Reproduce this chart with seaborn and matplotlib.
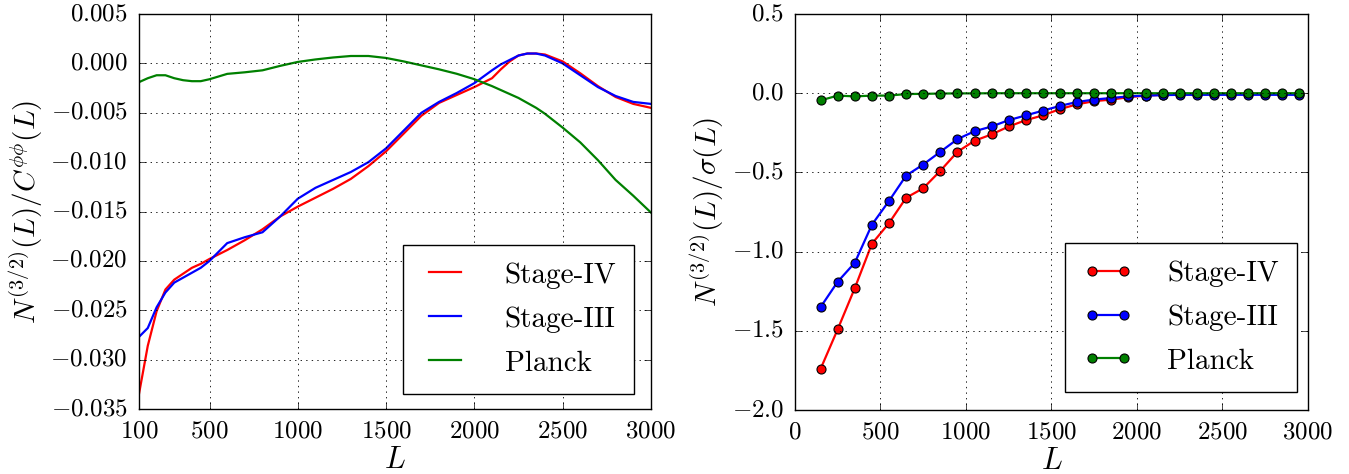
import numpy as np
import pandas as pd
import matplotlib
matplotlib.use("Agg")
import matplotlib.pyplot as plt
import seaborn as sns

# estilo classico (ticks para dentro, grade pontilhada)
plt.style.use("classic")
plt.rcParams["font.family"] = "serif"
plt.rcParams["font.serif"] = ["cmr10", "DejaVu Serif"]
plt.rcParams["mathtext.fontset"] = "cm"
plt.rcParams["axes.formatter.use_mathtext"] = True
plt.rcParams["axes.unicode_minus"] = True

# painel esquerdo: N^(3/2)/C^phiphi
L_left = [100, 150, 200, 250, 300, 350, 400, 450, 500, 600, 700, 800, 900, 1000, 1100,
          1200, 1300, 1400, 1500, 1600, 1700, 1800, 1900, 2000, 2100, 2150, 2200, 2250,
          2300, 2350, 2400, 2500, 2600, 2700, 2800, 2900, 3000]
stage4_left = [-0.0335, -0.0286, -0.0251, -0.0229, -0.0219, -0.0213, -0.0207, -0.0203,
               -0.0198, -0.0189, -0.0179, -0.0168, -0.0155, -0.0145, -0.0136, -0.0127,
               -0.0117, -0.0104, -0.0089, -0.0071, -0.0053, -0.0040, -0.0032, -0.0024,
               -0.0015, -0.0006, 0.0002, 0.0008, 0.0010, 0.0010, 0.0009, 0.0002,
               -0.0010, -0.0023, -0.0034, -0.0041, -0.0045]
stage3_left = [-0.0277, -0.0268, -0.0247, -0.0232, -0.0222, -0.0217, -0.0212, -0.0207,
               -0.0200, -0.0182, -0.0176, -0.0171, -0.0155, -0.0137, -0.0126, -0.0118,
               -0.0110, -0.0100, -0.0086, -0.0068, -0.0050, -0.0039, -0.0030, -0.0020,
               -0.0007, -0.0001, 0.00035, 0.0008, 0.0010, 0.0010, 0.0008, 0.0000,
               -0.0012, -0.0024, -0.0033, -0.0039, -0.0041]
planck_left = [-0.0019, -0.0015, -0.0012, -0.0012, -0.0015, -0.0017, -0.0018, -0.0018,
               -0.0016, -0.00106, -0.0009, -0.0007, -0.00025, 0.00015, 0.0004, 0.0006,
               0.00075, 0.00075, 0.00055, 0.0002, -0.0002, -0.0006, -0.00105, -0.0016,
               -0.0023, -0.0027, -0.0031, -0.0035, -0.0040, -0.0045, -0.0051, -0.0065,
               -0.0080, -0.0098, -0.0118, -0.0134, -0.0151]

# painel direito: N^(3/2)/sigma
L_right = list(range(150, 3000, 100))
stage4_right = [-1.74, -1.49, -1.23, -0.95, -0.82, -0.66, -0.60, -0.49, -0.37, -0.30,
                -0.26, -0.21, -0.17, -0.14, -0.10, -0.07, -0.05, -0.04, -0.025, -0.015,
                -0.010, -0.008, -0.006, -0.005, -0.004, -0.004, -0.003, -0.003, -0.003]
stage3_right = [-1.35, -1.19, -1.07, -0.83, -0.68, -0.52, -0.45, -0.37, -0.29, -0.24,
                -0.21, -0.17, -0.14, -0.11, -0.08, -0.055, -0.04, -0.03, -0.02, -0.015,
                -0.012, -0.010, -0.010, -0.010, -0.010, -0.010, -0.010, -0.010, -0.010]
planck_right = [-0.045, -0.015, -0.02, -0.015, -0.015, -0.005, -0.004, -0.002, -0.001,
                -0.001, 0.0, 0.0, 0.0, 0.0, 0.0, 0.0, 0.0, 0.0, 0.0, 0.0,
                0.0, 0.0, 0.0, 0.0, 0.0, 0.0, 0.0, 0.0, 0.0]

labels = ["Stage-IV", "Stage-III", "Planck"]
colors = ["red", "blue", "green"]

fig = plt.figure(figsize=(13.49, 4.74), dpi=100, facecolor="white")
ax1 = fig.add_axes([0.1030, 0.1371, 0.3795, 0.8333])
ax2 = fig.add_axes([0.5893, 0.1350, 0.3803, 0.8354])

for ys, lab, c in zip([stage4_left, stage3_left, planck_left], labels, colors):
    sns.lineplot(x=L_left, y=ys, ax=ax1, color=c, linewidth=1.6, label=lab)

for ys, lab, c in zip([stage4_right, stage3_right, planck_right], labels, colors):
    sns.lineplot(x=L_right, y=ys, ax=ax2, color=c, linewidth=1.6, marker="o",
                 markersize=6.5, markeredgecolor="black", markeredgewidth=0.8, label=lab)

ax1.set_xlim(100, 3000)
ax1.set_ylim(-0.035, 0.005)
ax1.set_xticks([100, 500, 1000, 1500, 2000, 2500, 3000])
ax1.set_yticks(np.arange(-0.035, 0.0051, 0.005))
ax1.set_ylabel(r"$N^{(3/2)}(L)/C^{\phi\phi}(L)$", fontsize=21, labelpad=4)

ax2.set_xlim(0, 3000)
ax2.set_ylim(-2.0, 0.5)
ax2.set_xticks(range(0, 3001, 500))
ax2.set_yticks(np.arange(-2.0, 0.51, 0.5))
ax2.set_ylabel(r"$N^{(3/2)}(L)/\sigma(L)$", fontsize=21, labelpad=4)

anchors = [(0.967, 0.038), (0.978, 0.045)]
for ax, anc in zip([ax1, ax2], anchors):
    ax.set_xlabel(r"$L$", fontsize=22, labelpad=3)
    ax.grid(True, color="black", linestyle=":", linewidth=0.6)
    ax.tick_params(labelsize=18, direction="in", length=5, top=True, right=True, pad=8)
    leg = ax.legend(loc="lower right", fontsize=21, handlelength=1.7, handletextpad=1.2,
                    numpoints=2, borderpad=0.6, labelspacing=0.6, borderaxespad=0,
                    bbox_to_anchor=anc, fancybox=False)
    leg.get_frame().set_edgecolor("black")

fig.savefig("out.png", dpi=100, facecolor="white")
